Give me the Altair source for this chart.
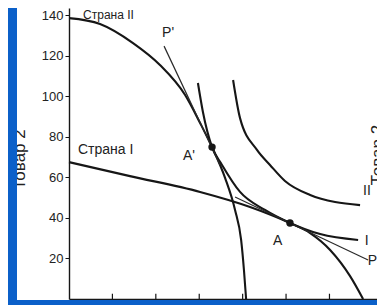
import altair as alt
import pandas as pd

BLUE = "#0b60c9"
INK = "#161616"
FONT = "Liberation Sans"

# Production possibility frontier, country II
ppf2_x = [0, 14.3, 29.5, 41.9, 53.5, 60.4, 65.9, 71.9, 76.5, 79.3, 80.6, 81.6]
ppf2_y = [138.5, 135.6, 126.2, 115.4, 100.6, 86.8, 74.9, 59.7, 43.9, 29.1, 14.3, 0]
# Production possibility frontier, country I
ppf1_x = [0, 28.1, 60.4, 83.4, 92.6, 101.8, 111.1, 120.3, 129.5, 135.5]
ppf1_y = [67.5, 60.6, 52.8, 45.4, 41.7, 37.5, 32.5, 24.2, 11.3, 0]
# Indifference curve I
ic1_x = [59.4, 61.7, 65.9, 70.5, 78.8, 90.3, 101.8, 115.7, 133.2]
ic1_y = [106.5, 92.2, 74.9, 66.1, 52.8, 43.9, 37.5, 32.0, 29.1]
# Indifference curve II
ic2_x = [75.6, 78.8, 86.6, 92.6, 99.5, 111.1, 122.6, 134.1]
ic2_y = [108.0, 89.2, 73.5, 66.1, 58.2, 51.3, 47.8, 46.3]
# Price lines P' and P
pp2_x = [43.8, 69.6]
pp2_y = [124.7, 66.1]
pp1_x = [76.5, 137.8]
pp1_y = [50.3, 19.2]
# Autarky points A' and A
pt_x = [65.9, 101.8]
pt_y = [74.9, 37.5]

# Text labels
lab_text = ["Страна I", "P'", "A'", "A", "II", "I", "P"]
lab_x = [4.1, 42.9, 52.5, 94.0, 135.5, 136.2, 137.6]
lab_y = [71.5, 129.2, 68.5, 26.6, 51.3, 26.6, 16.8]
top_text = ["Страна II"]
top_x = [6.5]
top_y = [138.1]

x_ticks = [20, 40, 60, 80, 100, 120]
y_ticks = [20, 40, 60, 80, 100, 120, 140]

def curve_df(name, xs, ys):
    return pd.DataFrame({"x": xs, "y": ys, "curve": name, "o": list(range(len(xs)))})

thick = pd.concat([
    curve_df("ppf2", ppf2_x, ppf2_y),
    curve_df("ppf1", ppf1_x, ppf1_y),
    curve_df("ic1", ic1_x, ic1_y),
    curve_df("ic2", ic2_x, ic2_y),
])
thin = pd.concat([
    curve_df("p2", pp2_x, pp2_y),
    curve_df("p1", pp1_x, pp1_y),
])

xs = alt.Scale(domain=[0, 141.9], nice=False, zero=False)
ys = alt.Scale(domain=[0, 143.5], nice=False, zero=False)

X = alt.X("x:Q", scale=xs,
          axis=alt.Axis(values=x_ticks, labels=False, ticks=False, title=None,
                        grid=False, domainColor=INK, domainWidth=1.4))
Y = alt.Y("y:Q", scale=ys,
          axis=alt.Axis(values=y_ticks, title="Товар 2", grid=False,
                        titleFont=FONT, titleFontSize=17, titleFontWeight="normal",
                        titleColor="#222", titleAngle=270, titleX=-45, titleY=151,
                        titleAlign="center", titleBaseline="alphabetic",
                        labelFont=FONT, labelFontSize=13, labelColor="#222",
                        labelPadding=2, tickSize=4, tickColor=INK,
                        domainColor=INK, domainWidth=1.4))

thick_lines = alt.Chart(thick).mark_line(color=INK, strokeWidth=2.1, interpolate="monotone").encode(
    x=X, y=Y, detail="curve:N", order="o:Q")
thin_lines = alt.Chart(thin).mark_line(color="#2a2a2a", strokeWidth=1.2).encode(
    x="x:Q", y="y:Q", detail="curve:N", order="o:Q")
dots = alt.Chart(pd.DataFrame({"x": pt_x, "y": pt_y})).mark_circle(
    color=INK, size=55, opacity=1).encode(x="x:Q", y="y:Q")
tick_df = pd.DataFrame({"x": x_ticks, "y": [0] * len(x_ticks), "y2": [2.6] * len(x_ticks)})
xticks = alt.Chart(tick_df).mark_rule(color=INK, strokeWidth=1.2).encode(
    x="x:Q", y="y:Q", y2="y2:Q")
labels = alt.Chart(pd.DataFrame({"t": lab_text, "x": lab_x, "y": lab_y})).mark_text(
    align="left", baseline="alphabetic", font=FONT, fontSize=14, color="#222").encode(
    x="x:Q", y="y:Q", text="t:N")
top_label = alt.Chart(pd.DataFrame({"t": top_text, "x": top_x, "y": top_y})).mark_text(
    align="left", baseline="alphabetic", font=FONT, fontSize=12, color="#222").encode(
    x="x:Q", y="y:Q", text="t:N")
side_title = alt.Chart(pd.DataFrame({"t": ["Товар 2"], "x": [144.5], "y": [71.0]})).mark_text(
    angle=270, align="center", baseline="alphabetic", font=FONT, fontSize=17, color="#222").encode(
    x="x:Q", y="y:Q", text="t:N")

one = pd.DataFrame({"a": [0]})
left_band = alt.Chart(one).mark_rect(color=BLUE).encode(
    x=alt.value(-62), x2=alt.value(-52), y=alt.value(-10), y2=alt.value(310))
bottom_band = alt.Chart(one).mark_rect(color=BLUE).encode(
    x=alt.value(-62), x2=alt.value(330), y=alt.value(292), y2=alt.value(310))

chart = alt.layer(
    thick_lines, thin_lines, xticks, dots, labels, top_label, side_title, left_band, bottom_band
).properties(
    width=308, height=291,
    autosize=alt.AutoSizeParams(type="none"),
    padding={"left": 61, "top": 0, "right": 0, "bottom": 6},
    background="white",
).configure_view(stroke=None)

chart.save("out.html", embed_options={"renderer": "svg", "actions": False})
